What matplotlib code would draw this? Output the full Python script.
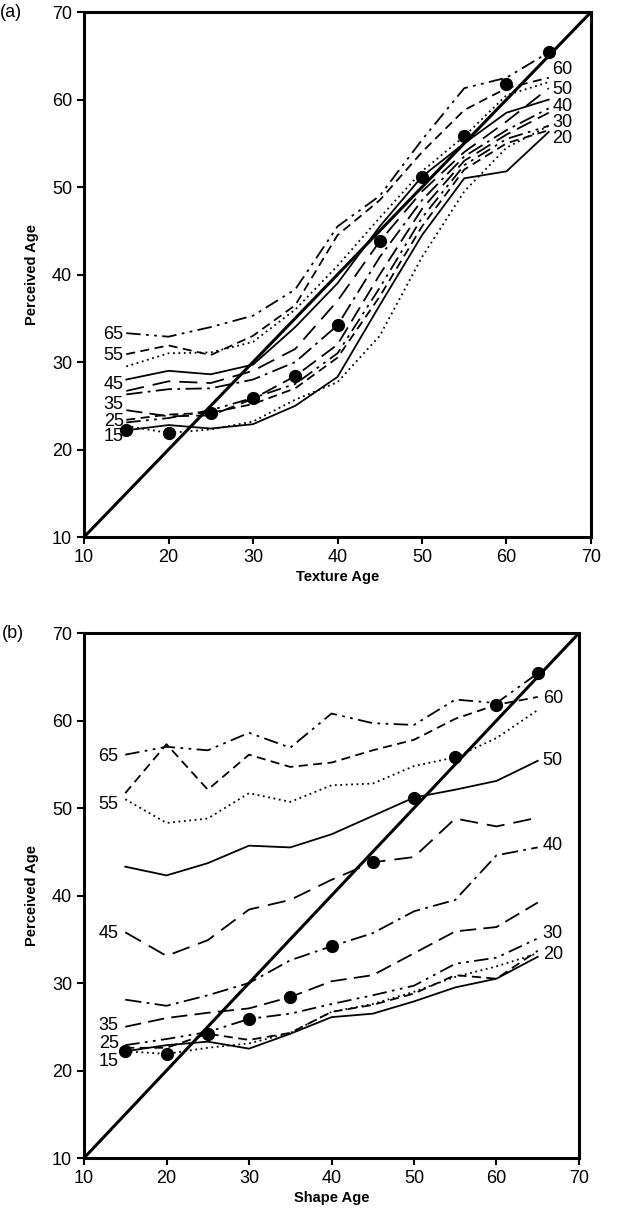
import matplotlib
matplotlib.use("Agg")
import matplotlib.pyplot as plt

plt.rcParams['font.family'] = ['Liberation Sans', 'DejaVu Sans']

# ages on the x axis (texture age in (a), shape age in (b))
ages = [15, 20, 25, 30, 35, 40, 45, 50, 55, 60, 65]

# veridical points (shape age == texture age)
dots = [22.2, 21.9, 24.2, 25.9, 28.4, 34.2, 43.8, 51.2, 55.8, 61.8, 65.4]

# panel (a): one curve per shape age, x = texture age
a_15 = [22.2, 22.8, 22.4, 22.9, 25.0, 28.3, 36.5, 44.5, 51.0, 51.8, 56.3]
a_20 = [22.7, 21.9, 22.3, 23.2, 25.7, 27.7, 33.0, 42.0, 49.5, 54.5, 57.0]
a_25 = [23.4, 24.0, 24.2, 25.2, 27.0, 30.5, 37.5, 45.5, 52.0, 55.0, 56.5]
a_30 = [23.1, 23.6, 24.5, 25.9, 27.5, 31.0, 38.5, 46.5, 52.5, 55.5, 57.0]
a_35 = [24.5, 23.8, 23.9, 25.8, 28.4, 32.0, 40.0, 47.5, 53.0, 56.0, 58.5]
a_40 = [26.3, 26.9, 27.0, 28.0, 30.0, 34.2, 42.0, 48.5, 53.5, 56.5, 59.0]
a_45 = [26.7, 27.8, 27.6, 29.0, 31.5, 37.0, 43.8, 49.5, 54.0, 57.5, 61.3]
a_50 = [28.0, 29.0, 28.6, 29.7, 34.0, 39.0, 45.5, 51.2, 55.0, 58.5, 60.0]
a_55 = [29.5, 31.0, 31.1, 32.3, 36.0, 41.0, 46.5, 51.8, 55.8, 60.5, 62.0]
a_60 = [30.9, 31.9, 30.8, 33.0, 36.5, 44.5, 48.5, 54.0, 58.8, 61.3, 62.5]
a_65 = [33.3, 32.9, 34.0, 35.3, 38.3, 45.5, 49.0, 55.4, 61.3, 62.5, 65.4]

# panel (b): one curve per texture age, x = shape age
b_15 = [22.2, 22.9, 23.3, 22.5, 24.2, 26.1, 26.5, 27.9, 29.5, 30.5, 33.0]
b_20 = [22.2, 21.9, 22.6, 23.1, 24.3, 26.7, 27.6, 29.0, 30.7, 31.9, 33.4]
b_25 = [22.6, 22.6, 24.2, 23.5, 24.3, 26.7, 27.5, 28.8, 30.9, 30.5, 33.7]
b_30 = [22.9, 23.6, 24.4, 25.9, 26.5, 27.6, 28.6, 29.7, 32.2, 32.9, 35.1]
b_35 = [25.0, 26.0, 26.6, 27.1, 28.4, 30.2, 30.9, 33.4, 35.9, 36.4, 39.2]
b_40 = [28.1, 27.4, 28.6, 30.0, 32.6, 34.2, 35.7, 38.2, 39.5, 44.6, 45.5]
b_45 = [35.8, 33.1, 34.9, 38.4, 39.5, 41.8, 43.8, 44.4, 48.8, 47.9, 48.9]
b_50 = [43.3, 42.3, 43.7, 45.7, 45.5, 47.0, 49.1, 51.2, 52.1, 53.1, 55.4]
b_55 = [51.0, 48.3, 48.8, 51.7, 50.7, 52.6, 52.8, 54.8, 55.8, 58.0, 61.2]
b_60 = [51.7, 57.3, 52.1, 56.1, 54.7, 55.2, 56.6, 57.8, 60.2, 61.8, 62.7]
b_65 = [56.1, 57.0, 56.6, 58.6, 56.9, 60.8, 59.7, 59.5, 62.4, 62.0, 65.4]

curves_a = [a_15, a_20, a_25, a_30, a_35, a_40, a_45, a_50, a_55, a_60, a_65]
curves_b = [b_15, b_20, b_25, b_30, b_35, b_40, b_45, b_50, b_55, b_60, b_65]

# line styles, same order as ages
styles = ['-', (0, (1, 2)), (0, (5, 3)), (0, (8, 3, 1.5, 3, 1.5, 3)),
          (0, (9, 4)), (0, (9, 3, 1.5, 3)), (0, (10, 5)),
          '-', (0, (1, 2)), (0, (5, 3)), (0, (8, 3, 1.5, 3, 1.5, 3))]

# inline curve labels (odd ages at the left, even ages at the right)
left_txt = ['65', '55', '45', '35', '25', '15']
right_txt = ['60', '50', '40', '30', '20']
a_left_y = [33.1, 30.8, 27.4, 25.2, 23.2, 21.5]
a_right_y = [63.4, 61.1, 59.2, 57.4, 55.6]
b_left_y = [55.9, 50.4, 35.7, 25.1, 23.1, 21.0]
b_right_y = [62.5, 55.4, 45.7, 35.7, 33.3]

lims = [10, 70]

fig = plt.figure(figsize=(6.35, 12.2), dpi=100)
ax_a = fig.add_axes([0.1323, 0.5598, 0.7984, 0.4303])
ax_b = fig.add_axes([0.1323, 0.0508, 0.7795, 0.4303])


def draw_panel(ax, curves, xlabel, left_y, right_y, left_x, right_x, tag):
    for c, ls in zip(curves, styles):
        ax.plot(ages, c, color='black', lw=1.3, linestyle=ls)
    ax.plot(lims, lims, color='black', lw=2.2)
    ax.plot(ages, dots, 'o', color='black', markersize=8.5)

    for t, y in zip(left_txt, left_y):
        ax.text(left_x, y, t, ha='right', va='center', fontsize=13)
    for t, y in zip(right_txt, right_y):
        ax.text(right_x, y, t, ha='left', va='center', fontsize=13)

    ax.set_xlim(lims)
    ax.set_ylim(lims)
    ax.set_xticks(range(10, 71, 10))
    ax.set_yticks(range(10, 71, 10))
    ax.tick_params(labelsize=13, width=1.5, length=5, direction='out')
    for s in ax.spines.values():
        s.set_linewidth(2.2)
    ax.set_xlabel(xlabel, fontsize=10.5, fontweight='bold', labelpad=3)
    ax.set_ylabel('Perceived Age', fontsize=10.5, fontweight='bold', labelpad=9)
    ax.text(-0.165, 1.0, tag, transform=ax.transAxes, fontsize=13,
            ha='left', va='center')


draw_panel(ax_a, curves_a, 'Texture Age', a_left_y, a_right_y, 14.7, 65.4, '(a)')
draw_panel(ax_b, curves_b, 'Shape Age', b_left_y, b_right_y, 14.2, 65.6, '(b)')

fig.savefig('out.png', dpi=100)
